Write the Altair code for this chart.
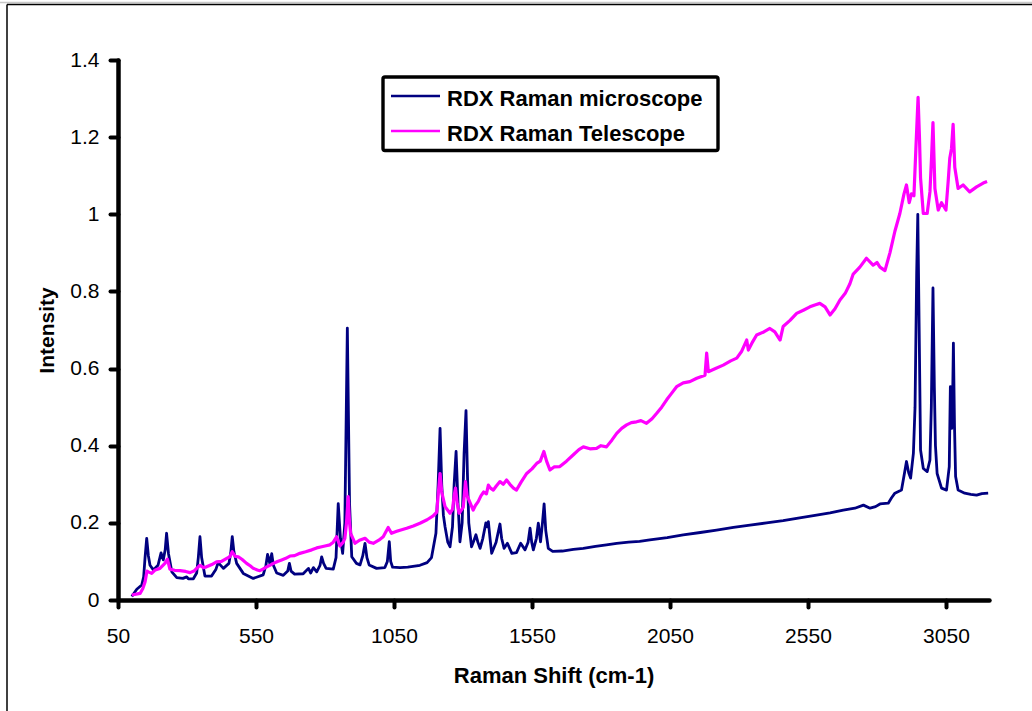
import altair as alt
import pandas as pd

# ---------------- data ----------------
series_names = ["RDX Raman microscope", "RDX Raman Telescope"]
series_colors = ["#000080", "#FF00FF"]

x_ticks = [50, 550, 1050, 1550, 2050, 2550, 3050]
y_ticks = [0, 0.2, 0.4, 0.6, 0.8, 1.0, 1.2, 1.4]

micro_x = [100, 118, 136, 143, 148, 154, 160, 166, 178, 195, 206, 214, 221, 226, 233, 245, 263, 285, 299, 305,
           323, 335, 341, 347, 353, 365, 389, 405, 413, 432, 452, 459, 464, 470, 480, 504, 540, 576, 586, 592,
           600, 607, 613, 625, 649, 665, 671, 677, 690, 721, 740, 748, 758, 770, 782, 788, 795, 804, 830, 840,
           848, 856, 864, 872, 881, 889, 897, 914, 927, 937, 945, 952, 960, 987, 1017, 1026, 1033, 1038, 1045, 1072,
           1100, 1144, 1170, 1186, 1202, 1210, 1217, 1223, 1229, 1235, 1245, 1253, 1262, 1268, 1275, 1282, 1289, 1297, 1304, 1311,
           1316, 1321, 1331, 1340, 1347, 1354, 1362, 1372, 1383, 1388, 1392, 1398, 1404, 1420, 1434, 1440, 1449, 1461, 1477, 1494,
           1509, 1525, 1536, 1543, 1549, 1555, 1566, 1573, 1581, 1588, 1594, 1600, 1609, 1625, 1660, 1700, 1736, 1780, 1820, 1857,
           1900, 1940, 1977, 2040, 2098, 2160, 2219, 2280, 2340, 2400, 2460, 2520, 2581, 2630, 2678, 2720, 2751, 2775, 2795, 2811,
           2841, 2853, 2865, 2889, 2900, 2907, 2915, 2922, 2932, 2938, 2944, 2948, 2953, 2958, 2968, 2982, 2992, 2997, 3003, 3008,
           3012, 3018, 3034, 3052, 3062, 3066, 3071, 3073, 3077, 3081, 3085, 3094, 3118, 3140, 3161, 3180, 3203]
micro_y = [0.009, 0.028, 0.039, 0.06, 0.11, 0.16, 0.115, 0.09, 0.078, 0.09, 0.122, 0.104, 0.13, 0.173, 0.12, 0.073, 0.058, 0.056, 0.06, 0.055,
           0.055, 0.07, 0.11, 0.164, 0.11, 0.062, 0.062, 0.08, 0.097, 0.082, 0.095, 0.125, 0.164, 0.125, 0.095, 0.069, 0.056, 0.065, 0.09, 0.118,
           0.095, 0.12, 0.09, 0.07, 0.064, 0.075, 0.095, 0.075, 0.067, 0.068, 0.082, 0.07, 0.084, 0.073, 0.09, 0.112, 0.095, 0.082, 0.08, 0.11,
           0.25, 0.16, 0.121, 0.2, 0.705, 0.25, 0.112, 0.095, 0.091, 0.115, 0.147, 0.11, 0.091, 0.082, 0.084, 0.1, 0.151, 0.1, 0.085, 0.084,
           0.085, 0.09, 0.097, 0.11, 0.173, 0.3, 0.445, 0.3, 0.22, 0.19, 0.15, 0.138, 0.19, 0.3, 0.385, 0.25, 0.151, 0.2, 0.38, 0.491,
           0.33, 0.2, 0.138, 0.155, 0.169, 0.15, 0.134, 0.16, 0.2, 0.19, 0.203, 0.16, 0.121, 0.15, 0.197, 0.16, 0.134, 0.147, 0.121, 0.123,
           0.147, 0.13, 0.15, 0.186, 0.15, 0.13, 0.16, 0.199, 0.151, 0.2, 0.249, 0.18, 0.134, 0.126, 0.127, 0.131, 0.134, 0.139, 0.143, 0.147,
           0.15, 0.152, 0.156, 0.162, 0.169, 0.175, 0.181, 0.188, 0.194, 0.2, 0.206, 0.213, 0.22, 0.226, 0.233, 0.238, 0.246, 0.238, 0.242, 0.249,
           0.251, 0.265, 0.277, 0.285, 0.33, 0.359, 0.33, 0.316, 0.38, 0.5, 0.85, 1.0, 0.7, 0.389, 0.341, 0.333, 0.363, 0.5, 0.809, 0.55,
           0.4, 0.328, 0.29, 0.285, 0.346, 0.553, 0.445, 0.46, 0.666, 0.45, 0.32, 0.285, 0.277, 0.274, 0.272, 0.276, 0.277]

tele_x = [100, 130, 140, 148, 155, 160, 172, 185, 202, 220, 229, 238, 255, 275, 295, 311, 325, 335, 347, 360,
          371, 390, 407, 425, 444, 455, 464, 475, 486, 500, 516, 530, 540, 555, 564, 575, 589, 600, 613, 628,
          643, 658, 673, 690, 709, 730, 752, 770, 788, 800, 818, 830, 842, 854, 866, 872, 878, 884, 889, 893,
          909, 925, 945, 960, 975, 995, 1011, 1029, 1041, 1060, 1072, 1096, 1120, 1144, 1170, 1192, 1205, 1211, 1217, 1223,
          1235, 1253, 1262, 1268, 1273, 1279, 1286, 1301, 1309, 1315, 1321, 1337, 1345, 1355, 1365, 1375, 1385, 1392, 1400, 1410,
          1420, 1434, 1446, 1458, 1470, 1483, 1494, 1510, 1531, 1550, 1567, 1580, 1593, 1603, 1615, 1630, 1651, 1675, 1699, 1720,
          1736, 1760, 1784, 1800, 1820, 1840, 1857, 1875, 1893, 1910, 1929, 1945, 1965, 1985, 2002, 2020, 2038, 2055, 2074, 2098,
          2122, 2147, 2177, 2183, 2189, 2215, 2243, 2270, 2292, 2310, 2328, 2334, 2350, 2364, 2390, 2412, 2430, 2449, 2460, 2485,
          2509, 2535, 2557, 2575, 2593, 2612, 2630, 2648, 2666, 2685, 2702, 2714, 2738, 2762, 2786, 2800, 2811, 2829, 2847, 2865,
          2883, 2898, 2907, 2917, 2925, 2934, 2941, 2949, 2954, 2958, 2968, 2982, 2992, 2998, 3003, 3010, 3022, 3034, 3050, 3058,
          3064, 3070, 3076, 3082, 3094, 3112, 3136, 3161, 3185, 3199]
tele_y = [0.013, 0.017, 0.03, 0.047, 0.075, 0.073, 0.069, 0.078, 0.082, 0.095, 0.106, 0.08, 0.077, 0.076, 0.074, 0.071, 0.075, 0.082, 0.09, 0.084,
          0.086, 0.092, 0.099, 0.1, 0.108, 0.112, 0.125, 0.113, 0.112, 0.105, 0.095, 0.088, 0.082, 0.078, 0.076, 0.08, 0.086, 0.09, 0.095, 0.1,
          0.104, 0.108, 0.114, 0.115, 0.121, 0.125, 0.13, 0.135, 0.138, 0.14, 0.143, 0.15, 0.164, 0.14, 0.15, 0.16, 0.2, 0.268, 0.2, 0.173,
          0.147, 0.155, 0.16, 0.15, 0.147, 0.155, 0.164, 0.188, 0.173, 0.178, 0.181, 0.186, 0.192, 0.199, 0.208, 0.218, 0.228, 0.28, 0.328, 0.28,
          0.242, 0.225, 0.235, 0.27, 0.29, 0.25, 0.225, 0.24, 0.307, 0.27, 0.26, 0.233, 0.245, 0.255, 0.27, 0.28, 0.275, 0.298, 0.29, 0.285,
          0.295, 0.307, 0.3, 0.311, 0.3, 0.29, 0.285, 0.305, 0.328, 0.34, 0.354, 0.36, 0.385, 0.36, 0.337, 0.345, 0.346, 0.36, 0.376, 0.39,
          0.397, 0.392, 0.393, 0.4, 0.397, 0.415, 0.432, 0.445, 0.454, 0.46, 0.462, 0.465, 0.458, 0.47, 0.484, 0.5, 0.519, 0.535, 0.553, 0.563,
          0.566, 0.575, 0.583, 0.64, 0.592, 0.6, 0.609, 0.62, 0.627, 0.645, 0.674, 0.648, 0.67, 0.687, 0.695, 0.704, 0.695, 0.674, 0.709, 0.725,
          0.743, 0.752, 0.76, 0.765, 0.769, 0.76, 0.739, 0.755, 0.778, 0.795, 0.82, 0.845, 0.863, 0.886, 0.868, 0.875, 0.863, 0.854, 0.9, 0.956,
          1.002, 1.053, 1.076, 1.03, 1.053, 1.048, 1.169, 1.303, 1.2, 1.094, 1.002, 1.002, 1.058, 1.15, 1.238, 1.067, 1.011, 1.03, 1.011, 1.085,
          1.146, 1.17, 1.233, 1.122, 1.067, 1.076, 1.058, 1.071, 1.081, 1.085]

# ---------------- build ----------------
W, H = 871, 540
FONT = "Liberation Sans"

micro = pd.DataFrame({"shift": micro_x, "intensity": micro_y, "series": series_names[0]})
tele = pd.DataFrame({"shift": tele_x, "intensity": tele_y, "series": series_names[1]})

xscale = alt.Scale(domain=[50, 3206], nice=False, zero=False)
yscale = alt.Scale(domain=[0, 1.4], nice=False, zero=True)

x_axis = alt.Axis(values=x_ticks, format="d", title="Raman Shift (cm-1)", grid=False,
                  domainColor="black", domainWidth=4.5, domainCap="round",
                  tickColor="black", tickWidth=4, tickSize=7, tickCap="round",
                  labelFont=FONT, labelFontSize=21, labelColor="black", labelPadding=18,
                  labelFlush=False, labelOverlap=False,
                  titleFont=FONT, titleFontSize=22, titleFontWeight="bold", titleColor="black",
                  titleX=W / 2, titleY=82, titleBaseline="alphabetic", titleAlign="center")
y_axis = alt.Axis(values=y_ticks, format="~g", title="Intensity", grid=False,
                  domainColor="black", domainWidth=4.5, domainCap="round",
                  tickColor="black", tickWidth=4, tickSize=8, tickCap="round",
                  labelFont=FONT, labelFontSize=21, labelColor="black", labelPadding=11,
                  labelFlush=False, labelOverlap=False,
                  titleFont=FONT, titleFontSize=21, titleFontWeight="bold", titleColor="black",
                  titleX=-65, titleY=H / 2, titleAngle=270, titleBaseline="alphabetic", titleAlign="center")

line_micro = alt.Chart(micro).mark_line(color=series_colors[0], strokeWidth=2.8, strokeJoin="round").encode(
    x=alt.X("shift:Q", scale=xscale, axis=x_axis),
    y=alt.Y("intensity:Q", scale=yscale, axis=y_axis),
    order="shift:Q",
)
line_tele = alt.Chart(tele).mark_line(color=series_colors[1], strokeWidth=3.2, strokeJoin="round").encode(
    x=alt.X("shift:Q", scale=xscale),
    y=alt.Y("intensity:Q", scale=yscale),
    order="shift:Q",
)

one = alt.Data(values=[{"k": 1}])

# outer frame of the picture
frame_left = alt.Chart(one).mark_rule(color="black", strokeWidth=1.5).encode(
    x=alt.value(-111), y=alt.value(-55.5), y2=alt.value(H + 120))
frame_top = alt.Chart(one).mark_rule(color="black", strokeWidth=1.5).encode(
    x=alt.value(-111), x2=alt.value(W + 50), y=alt.value(-55.5))
frame_gray = alt.Chart(one).mark_rule(color="#c8c8c8", strokeWidth=1.5).encode(
    x=alt.value(-118), x2=alt.value(W + 50), y=alt.value(-57.5))

# legend box
leg_box = alt.Chart(one).mark_rect(fill="white", stroke="black", strokeWidth=3.4, cornerRadius=2).encode(
    x=alt.value(265), x2=alt.value(600), y=alt.value(17), y2=alt.value(90.5))
leg_parts = []
for i, (name, col) in enumerate(zip(series_names, series_colors)):
    ly = 36 + i * 35
    leg_parts.append(alt.Chart(one).mark_rule(color=col, strokeWidth=2.6).encode(
        x=alt.value(273), x2=alt.value(322), y=alt.value(ly)))
    leg_parts.append(alt.Chart(one).mark_text(
        text=name, font=FONT, fontSize=22, fontWeight="bold", color="black",
        align="left", baseline="alphabetic").encode(
        x=alt.value(329), y=alt.value(ly + 9.5)))

chart = alt.layer(frame_gray, frame_left, frame_top, line_micro, line_tele, leg_box, *leg_parts).properties(
    width=W, height=H,
    padding={"left": 118, "top": 60, "right": 1032 - 118 - W, "bottom": 711 - 60 - H},
    autosize=alt.AutoSizeParams(type="none"),
    background="white",
).configure_view(stroke=None)

chart.save("out.html", embed_options={"renderer": "svg", "actions": False})
